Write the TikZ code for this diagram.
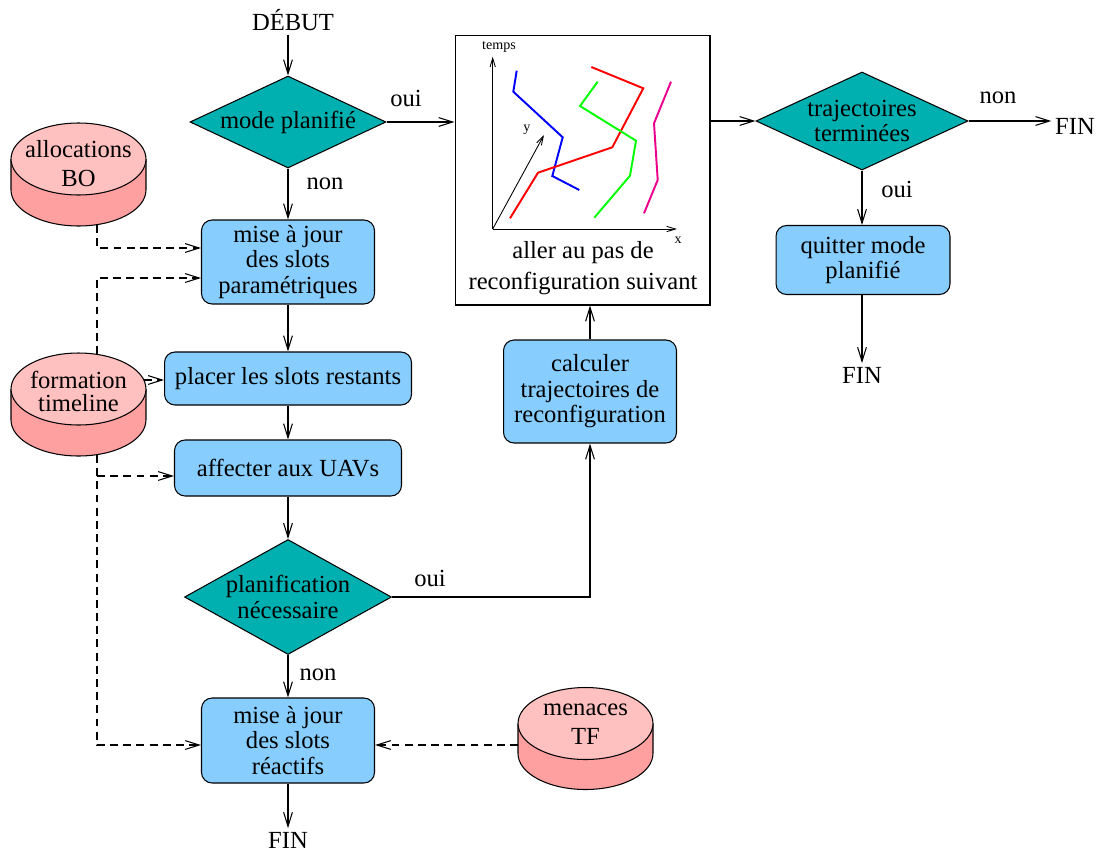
\documentclass[tikz,border=0pt]{standalone}
\usepackage{fontspec}
\setmainfont{Liberation Serif}
\usetikzlibrary{shapes.geometric,arrows.meta}

\definecolor{boxblue}{RGB}{135,206,255}
\definecolor{testcyan}{RGB}{0,176,176}
\definecolor{dbtop}{RGB}{255,192,192}
\definecolor{dbside}{RGB}{255,160,160}

\tikzset{
  >={Straight Barb[length=8pt,width=5pt]},
  flow/.style={->,line width=0.6pt},
  dep/.style={->,line width=0.6pt,dash pattern=on 4.5pt off 3pt},
  action/.style={draw,line width=0.6pt,fill=boxblue,rounded corners=6pt,align=center,inner sep=2pt},
  test/.style={draw,line width=0.6pt,fill=testcyan,diamond,align=center,inner sep=-1pt},
  txt/.style={inner sep=2pt,align=center},
  axe/.style={->,>={Straight Barb[length=5pt,width=3pt]},line width=0.5pt},
  traj/.style={line width=1.1pt},
  petit/.style={inner sep=0pt,font=\fontsize{8}{9}\selectfont},
}

\begin{document}
\begin{tikzpicture}[x=0.02cm,y=-0.02cm,font=\fontsize{14}{14.5}\selectfont]
\useasboundingbox (0,0) rectangle (1097,852);

% bases de donnees
\filldraw[fill=dbside,line width=0.6pt] (11,159) -- (11,190) arc[start angle=180,end angle=360,x radius=1.35cm,y radius=0.72cm] -- (146,159);
\filldraw[fill=dbtop,line width=0.6pt] (78.5,159) ellipse[x radius=1.35cm,y radius=0.72cm];
\node[txt] (bo) at (78.5,164) {allocations\\[2pt]BO};

\filldraw[fill=dbside,line width=0.6pt] (11,389) -- (11,420) arc[start angle=180,end angle=360,x radius=1.35cm,y radius=0.72cm] -- (146,389);
\filldraw[fill=dbtop,line width=0.6pt] (78.5,389) ellipse[x radius=1.35cm,y radius=0.72cm];
\node[txt] (timeline) at (78.5,391.5) {formation\\[-1.5pt]timeline};

\filldraw[fill=dbside,line width=0.6pt] (518,723.5) -- (518,753.5) arc[start angle=180,end angle=360,x radius=1.35cm,y radius=0.72cm] -- (653,723.5);
\filldraw[fill=dbtop,line width=0.6pt] (585.5,723.5) ellipse[x radius=1.35cm,y radius=0.72cm];
\node[txt] (tf) at (585.5,724) {menaces\\[2pt]TF};

% noeuds
\node[txt] (debut) at (293,20) {DÉBUT};
\node[test,aspect=2.13,minimum width=3.92cm,minimum height=1.84cm] (mode) at (288,122) {mode planifié};
\node[action,minimum width=3.46cm,minimum height=1.68cm] (majp) at (288,262) {mise à jour\\des slots\\paramétriques};
\node[action,minimum width=4.94cm,minimum height=1.06cm] (placer) at (288,378.5) {placer les slots restants};
\node[action,minimum width=4.54cm,minimum height=1.12cm] (affecter) at (288,468) {affecter aux UAVs};
\node[test,aspect=1.8,minimum width=4.14cm,minimum height=2.3cm] (planif) at (288,597) {planification\\nécessaire};
\node[action,minimum width=3.46cm,minimum height=1.7cm] (majr) at (288,740.5) {mise à jour\\des slots\\réactifs};
\node[txt] (finc) at (288,840) {FIN};

\node[action,minimum width=3.46cm,minimum height=2.06cm] (calc) at (590,391.5) {calculer\\trajectoires de\\reconfiguration};
\node[draw,line width=0.6pt,minimum width=5.1cm,minimum height=5.4cm] (pas) at (582.5,170) {};
\node[txt] (pastxt) at (583,268) {aller au pas de\\[3pt]reconfiguration suivant};

\node[test,aspect=2.16,minimum width=4.24cm,minimum height=1.96cm] (termin) at (862,121) {trajectoires\\terminées};
\node[txt] (fina) at (1075,126) {FIN};
\node[action,minimum width=3.48cm,minimum height=1.38cm] (quitter) at (863,260) {quitter mode\\planifié};
\node[txt] (finb) at (862,375) {FIN};

% trajectoires
\coordinate (o) at (492.7,229);
\draw[axe] (o) -- (492.7,56.7);
\draw[axe] (o) -- (677,229);
\draw[axe] (o) -- (544,135);
\node[petit] (temps) at (499,47) {temps};
\node[petit] (xl) at (678,240) {x};
\node[petit] (yl) at (527,130) {y};
\draw[traj,blue] (516.7,70.7) -- (513.3,91.7) -- (562.7,137.3) -- (552.3,176) -- (579.3,190);
\draw[traj,red] (510,218.3) -- (538,172.7) -- (612.3,147.3) -- (643.3,88.3) -- (591.3,67);
\draw[traj,green] (597.7,81.7) -- (580,106) -- (636,140.7) -- (630,175.7) -- (594.3,217.7);
\draw[traj,magenta] (671,81.7) -- (654,123.3) -- (657.7,180) -- (644,213.3);

% liens
\draw[flow] (debut.south -| mode.north) -- (mode.north);
\draw[flow] (mode.east) -- (mode.east -| pas.west);
\draw[flow] (mode) -- (majp);
\draw[flow] (majp) -- (placer);
\draw[flow] (placer) -- (affecter);
\draw[flow] (affecter) -- (planif);
\draw[flow] (planif) -- (majr);
\draw[flow] (majr) -- (finc);
\draw[flow] (planif.east) -| (calc.south);
\draw[flow] (calc.north) -- (calc.north |- pas.south);
\draw[flow] (pas.east |- termin.west) -- (termin.west);
\draw[flow] (termin.east) -- (termin.east -| fina.west);
\draw[flow] (termin) -- (termin |- quitter.north);
\draw[flow] (quitter.south -| termin) -- (finb);

\node[txt] (oui1) at (406,98) {oui};
\node[txt] (non1) at (325,184) {non};
\node[txt] (oui2) at (430,578) {oui};
\node[txt] (non2) at (318,675) {non};
\node[txt] (non3) at (998,98) {non};
\node[txt] (oui3) at (897,189) {oui};

% liens en pointille
\coordinate (ba) at (97,225);
\coordinate (bb) at (97,248);
\draw[dep] (ba) -- (bb) -- (bb -| majp.west);
\coordinate (fa) at (97,354);
\coordinate (fb) at (97,278);
\draw[dep] (fa) -- (fb) -- (fb -| majp.west);
\coordinate (fc) at (144,380);
\draw[dep] (fc) -- (fc -| placer.west);
\coordinate (fd) at (97,455);
\coordinate (fe) at (97,745);
\coordinate (ff) at (97,476);
\draw[dep] (fd) -- (fe) -- (fe -| majr.west);
\draw[dep] (ff) -- (ff -| affecter.west);
\coordinate (ma) at (518,745);
\draw[dep] (ma) -- (ma -| majr.east);

\end{tikzpicture}
\end{document}
